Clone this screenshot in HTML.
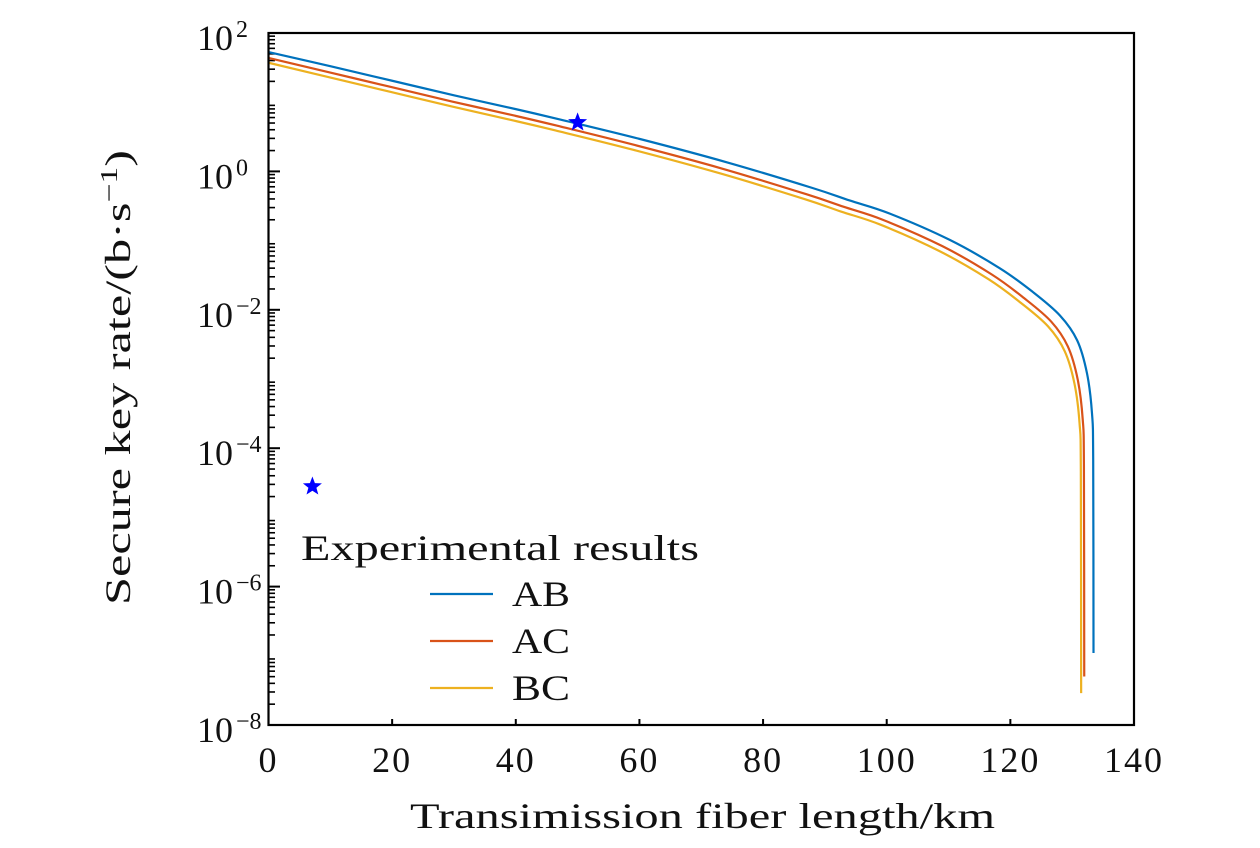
<!DOCTYPE html>
<html><head><meta charset="utf-8"><style>
body{margin:0;background:#fff}
svg text{font-family:"Liberation Serif",serif;fill:#111}
</style></head><body>
<svg id="chart" width="1260" height="843" viewBox="0 0 1260 843" xmlns="http://www.w3.org/2000/svg">
<g id="ticks"></g>
<g id="series"></g>
<rect x="268.5" y="33" width="865.5" height="692" fill="none" stroke="#000" stroke-width="2.2"/>
<text x="410" y="828" font-size="36" textLength="585" lengthAdjust="spacingAndGlyphs">Transimission fiber length/km</text>
<text transform="translate(130,605) rotate(-90)" font-size="36" textLength="455" lengthAdjust="spacingAndGlyphs">Secure key rate/(b·s<tspan dy="-13" font-size="24">−1</tspan><tspan dy="13">)</tspan></text>
<g>
<text x="301" y="560" font-size="36" textLength="398" lengthAdjust="spacingAndGlyphs">Experimental results</text>
<line x1="430" x2="493" y1="594" y2="594" stroke="#0072bd" stroke-width="2.2"/>
<text x="512" y="606" font-size="36" textLength="58" lengthAdjust="spacingAndGlyphs">AB</text>
<line x1="430" x2="493" y1="641" y2="641" stroke="#d95319" stroke-width="2.2"/>
<text x="512" y="653" font-size="36" textLength="58" lengthAdjust="spacingAndGlyphs">AC</text>
<line x1="430" x2="493" y1="688" y2="688" stroke="#edb120" stroke-width="2.2"/>
<text x="512" y="700" font-size="36" textLength="58" lengthAdjust="spacingAndGlyphs">BC</text>
</g>
</svg>
<script>
const xTicks=[0,20,40,60,80,100,120,140];
const yDecades=[2,0,-2,-4,-6,-8];
const abKm=[0,10,20,30,40,47.2,60,74.2,88,94,100.5,110.2,118.3,123.6,128,130.8,132.4,133.2,133.4,133.45];
const abLog=[1.725,1.52,1.31,1.10,0.90,0.749,0.47,0.13,-0.24,-0.42,-0.61,-0.99,-1.40,-1.74,-2.08,-2.44,-2.92,-3.49,-4.17,-6.96];
const acKm=[0,9.9,19.8,29.7,39.6,46.7,59.3,73.4,87,93,99.4,109,117,122.2,126.6,129.3,130.9,131.7,131.9,131.95];
const acLog=[1.64,1.43,1.22,1.01,0.81,0.66,0.38,0.04,-0.33,-0.51,-0.70,-1.08,-1.49,-1.83,-2.17,-2.53,-3.01,-3.58,-4.26,-7.3];
const bcKm=[0,9.85,19.7,29.55,39.4,46.5,59.1,73.1,86.7,92.6,99,108.5,116.5,121.7,126.1,128.8,130.4,131.2,131.4,131.45];
const bcLog=[1.57,1.36,1.15,0.94,0.74,0.59,0.31,-0.03,-0.40,-0.58,-0.77,-1.15,-1.56,-1.90,-2.24,-2.60,-3.08,-3.65,-4.33,-7.54];
const expKm=[50,7.1];
const expRate=[5.1,2.8e-5];
const X=v=>268.5+v*(865.5/140);
const Y=l=>33+(2-l)*69.2;
const NS="http://www.w3.org/2000/svg";
const ticks=document.getElementById('ticks'),series=document.getElementById('series');
function mk(tag,attrs,parent){const e=document.createElementNS(NS,tag);for(const k in attrs)e.setAttribute(k,attrs[k]);parent.appendChild(e);return e;}
xTicks.forEach(t=>{
 const l=mk('line',{x1:X(t),x2:X(t),y1:725,y2:719,stroke:'#000','stroke-width':2},ticks);
 
 
 const tx=mk('text',{x:X(t),y:772,'font-size':36,'text-anchor':'middle','letter-spacing':2},ticks);tx.textContent=t;
 
 
});
for(let d=-8;d<=2;d++){
 if(d%2===0){
  const l=mk('line',{x1:268.5,x2:280,y1:Y(d),y2:Y(d),stroke:'#000','stroke-width':2},ticks);
  
  
 }
 if(d<2){for(let m=2;m<=9;m++){
  const l=mk('line',{x1:268.5,x2:275,y1:Y(d+Math.log10(m)),y2:Y(d+Math.log10(m)),stroke:'#000','stroke-width':1.6},ticks);
  
  
 }}
}
yDecades.forEach(d=>{
 const tx=mk('text',{x:233,y:Y(d)+17,'font-size':36,'text-anchor':'end'},ticks);tx.textContent='10';
 
 
 const s=mk('text',{x:236,y:Y(d)+4,'font-size':24,'text-anchor':'start'},ticks);s.textContent=d<0?'−'+(-d):String(d);
 
 
});
function curve(km,lg){
 const p=km.map((k,i)=>[X(k),Y(lg[i])]);
 let d='M'+p[0][0]+','+p[0][1];
 for(let i=0;i<p.length-1;i++){
  const p0=p[Math.max(0,i-1)],p1=p[i],p2=p[i+1],p3=p[Math.min(p.length-1,i+2)];
  const c1=[p1[0]+(p2[0]-p0[0])/6,p1[1]+(p2[1]-p0[1])/6];
  const c2=[p2[0]-(p3[0]-p1[0])/6,p2[1]-(p3[1]-p1[1])/6];
  d+=` C${c1[0]},${c1[1]} ${c2[0]},${c2[1]} ${p2[0]},${p2[1]}`;
 }
 return d;
}
const bc=mk('path',{d:curve(bcKm,bcLog),fill:'none',stroke:'#edb120','stroke-width':2.2},series);


const ac=mk('path',{d:curve(acKm,acLog),fill:'none',stroke:'#d95319','stroke-width':2.2},series);


const ab=mk('path',{d:curve(abKm,abLog),fill:'none',stroke:'#0072bd','stroke-width':2.2},series);


function star(cx,cy,r){let pts=[];for(let i=0;i<10;i++){const a=-Math.PI/2+i*Math.PI/5,rr=i%2?r*0.42:r;pts.push((cx+rr*Math.cos(a)).toFixed(1)+','+(cy+rr*Math.sin(a)).toFixed(1));}return pts.join(' ');}
expKm.forEach((k,i)=>{
 const s=mk('polygon',{points:star(X(k),Y(Math.log10(expRate[i])),10),fill:'#0000ff'},series);
 
 
});
</script>
</body></html>
